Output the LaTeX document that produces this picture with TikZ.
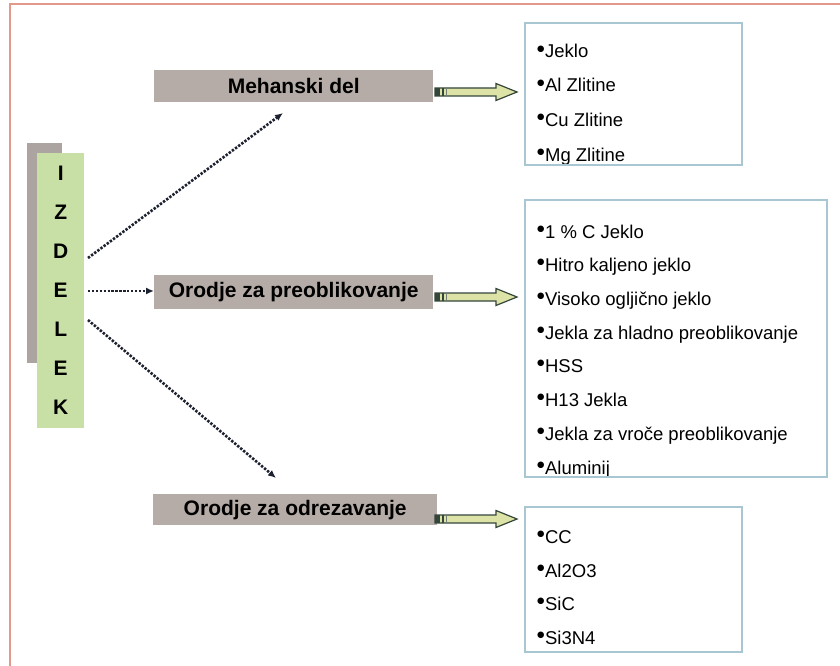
\documentclass[tikz,border=0pt]{standalone}
\usepackage{fontspec}
\setmainfont{Liberation Sans}
\newfontfamily\dejavu{DejaVu Sans}
\usetikzlibrary{arrows.meta}
\definecolor{framecol}{HTML}{E3998A}
\definecolor{hgray}{HTML}{B5ACA7}
\definecolor{shadowgray}{HTML}{ABA4A1}
\definecolor{izgreen}{HTML}{C8E0A6}
\definecolor{boxblue}{HTML}{A9C6D3}
\definecolor{arrfill}{HTML}{DDE3A6}
\definecolor{arredge}{HTML}{34463A}
\definecolor{dotcol}{HTML}{1E2230}
\newcommand\bul{{\dejavu\fontsize{8.5}{9}\selectfont\raisebox{6.5pt}{●}}\hspace{0.5pt}}
\newcommand\fatarr[1]{%
  \draw[fatarrow] (435,{#1-4}) -- (496,{#1-4}) -- (496,{#1-8.5}) -- (517,#1) -- (496,{#1+8.5}) -- (496,{#1+4}) -- (435,{#1+4}) -- cycle;
  \fill[arredge] (435,{#1-4}) rectangle (440,{#1+4});
  \fill[arredge] (442,{#1-4}) rectangle (444,{#1+4});
  \fill[arredge!70] (446,{#1-4}) rectangle (447,{#1+4});
}
\begin{document}
\begin{tikzpicture}[x=1pt,y=-1pt,
  heading/.style={fill=hgray, draw=none, font=\fontsize{21}{24}\selectfont\bfseries, inner sep=0pt, anchor=north west},
  listbox/.style={fill=white, draw=none, anchor=north west, inner sep=0pt},
  boxline/.style={draw=boxblue, line width=2pt},
  item/.style={anchor=base west, font=\fontsize{18.5}{20}\selectfont, inner sep=0pt},
  dotarrow/.style={dotcol, line width=2.6pt, dash pattern=on 2.4pt off 1.5pt, -{Latex[length=8pt,width=7pt]}},
  fatarrow/.style={fill=arrfill, draw=arredge, line width=1.2pt, line join=miter}]
\useasboundingbox (0,0) rectangle (840,666);
\fill[white] (0,0) rectangle (840,666);
\draw[framecol, line width=1.5pt] (10,666) -- (10,4) -- (840,4);

% IZDELEK
\node[fill=shadowgray, minimum width=35pt, minimum height=220pt, inner sep=0pt, anchor=north west] (shadow) at (27,143) {};
\node[fill=izgreen, minimum width=47pt, minimum height=275pt, inner sep=0pt, anchor=north west,
      align=center, font=\fontsize{21}{39}\selectfont\bfseries] (izdelek) at (37,153) {I\\Z\\D\\E\\L\\E\\K};

% headings
\node[heading, minimum width=279pt, minimum height=32pt] (h1) at (154,70) {Mehanski del};
\node[heading, minimum width=279pt, minimum height=34pt] (h2) at (154,275) {Orodje za preoblikovanje};
\node[heading, minimum width=284pt, minimum height=31pt] (h3) at (153,494) {Orodje za odrezavanje};

% dotted arrows
\coordinate (a1s) at (88,258);
\coordinate (a1e) at (283,113);
\coordinate (a2s) at (88,291);
\coordinate (a3s) at (88,320);
\coordinate (a3e) at (276,478);
\draw[dotarrow] (a1s) -- (a1e);
\draw[dotarrow] (a2s) -- (h2.west |- a2s);
\draw[dotarrow] (a3s) -- (a3e);

% fat arrows
\fatarr{92}
\fatarr{297}
\fatarr{519}

% list boxes
\node[listbox, minimum width=217pt, minimum height=142pt] (b1) at (525,23) {};
\node[listbox, minimum width=302pt, minimum height=277pt] (b2) at (525,200) {};
\node[listbox, minimum width=217pt, minimum height=145pt] (b3) at (525,507) {};

\begin{scope}
\clip (b1.north west) rectangle ([yshift=1pt]b1.south east);
\node[item] (i11) at (537,58) {\bul Jeklo};
\node[item] (i12) at (537,92) {\bul Al Zlitine};
\node[item] (i13) at (537,126) {\bul Cu Zlitine};
\node[item] (i14) at (537,161) {\bul Mg Zlitine};
\end{scope}
\begin{scope}
\clip (b2.north west) rectangle ([yshift=1pt]b2.south east);
\node[item] (i21) at (537,238) {\bul 1 \% C Jeklo};
\node[item] (i22) at (537,271) {\bul Hitro kaljeno jeklo};
\node[item] (i23) at (537,305) {\bul Visoko ogljično jeklo};
\node[item] (i24) at (537,339) {\bul Jekla za hladno preoblikovanje};
\node[item] (i25) at (537,372) {\bul HSS};
\node[item] (i26) at (537,406) {\bul H13 Jekla};
\node[item] (i27) at (537,440) {\bul Jekla za vroče preoblikovanje};
\node[item] (i28) at (537,474) {\bul Aluminij};
\end{scope}
\begin{scope}
\clip (b3.north west) rectangle ([yshift=1pt]b3.south east);
\node[item] (i31) at (537,543) {\bul CC};
\node[item] (i32) at (537,577) {\bul Al2O3};
\node[item] (i33) at (537,610) {\bul SiC};
\node[item] (i34) at (537,644) {\bul Si3N4};
\end{scope}
\draw[boxline] (b1.north west) rectangle (b1.south east);
\draw[boxline] (b2.north west) rectangle (b2.south east);
\draw[boxline] (b3.north west) rectangle (b3.south east);
\end{tikzpicture}
\end{document}
